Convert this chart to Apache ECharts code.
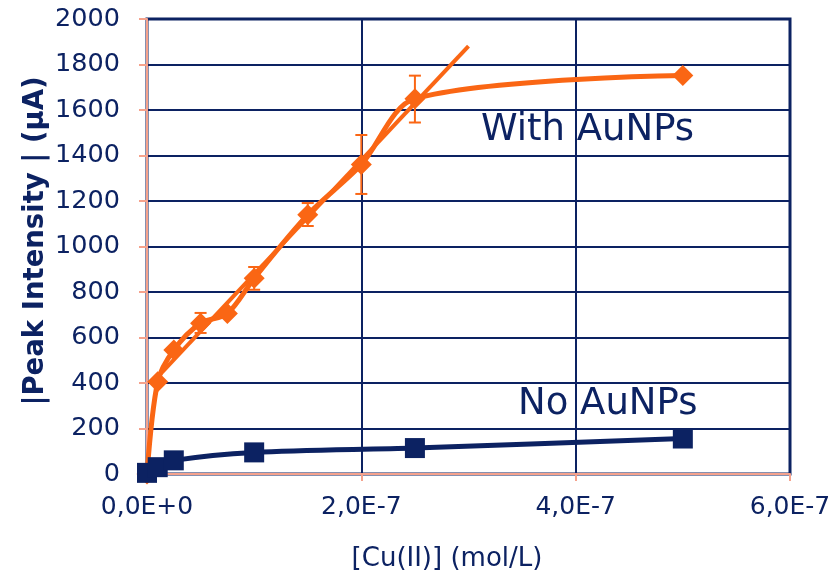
<!DOCTYPE html>
<html>
<head>
<meta charset="utf-8">
<script src="https://cdn.jsdelivr.net/npm/echarts@6/dist/echarts.min.js"></script>
<style>
html,body{margin:0;padding:0;background:#fff;}
#chart{width:840px;height:576px;}
</style>
</head>
<body>
<div id="chart"></div>
<script>
// concentrations (mol/L)
var withX = [0, 1e-8, 2.5e-8, 5e-8, 7.5e-8, 1e-7, 1.5e-7, 2e-7, 2.5e-7, 5e-7];
var withY = [0, 405, 545, 663, 705, 860, 1140, 1360, 1650, 1752];
var noX = [0, 1e-8, 2.5e-8, 1e-7, 2.5e-7, 5e-7];
var noY = [5, 30, 60, 95, 114, 156];
// error bars for "With AuNPs": x, low, high
var errX = [5e-8, 1e-7, 1.5e-7, 2e-7, 2.5e-7];
var errLow = [620, 810, 1090, 1231, 1545];
var errHigh = [708, 910, 1191, 1490, 1751];
// linear trendline end points
var trendX = [1e-8, 3e-7];
var trendY = [427, 1881];
var xTickLabels = ['0,0E+0', '2,0E-7', '4,0E-7', '6,0E-7'];
var yTitle = '|Peak Intensity | (\u00b5A)';
var xTitle = '[Cu(II)] (mol/L)';
var seriesNames = ['With AuNPs', 'No AuNPs'];

var NAVY = '#0c2262';
var ORANGE = '#fa6614';
var SALMON = '#f5a28c';
var FONT = 'DejaVu Sans';

function zip(a, b) { return a.map(function (v, i) { return [v, b[i]]; }); }

var chart = echarts.init(document.getElementById('chart'), null, {renderer: 'canvas'});
var option = {
  animation: false,
  backgroundColor: '#fff',
  grid: {left: 147, right: 50, top: 19, bottom: 102, show: true, borderColor: NAVY, borderWidth: 3, backgroundColor: 'transparent'},
  xAxis: {
    type: 'value', min: 0, max: 6e-7, interval: 2e-7,
    axisLine: {show: true, lineStyle: {color: SALMON, width: 2}},
    axisTick: {show: true, inside: false, length: 7, lineStyle: {color: SALMON, width: 2}},
    splitLine: {show: true, lineStyle: {color: NAVY, width: 2}},
    axisLabel: {
      margin: 21, fontSize: 25, color: NAVY, fontFamily: FONT,
      formatter: function (v) { return xTickLabels[Math.round(v / 2e-7)]; }
    }
  },
  yAxis: {
    type: 'value', min: 0, max: 2000, interval: 200,
    axisLine: {show: true, lineStyle: {color: SALMON, width: 2}},
    axisTick: {show: true, inside: false, length: 8, lineStyle: {color: SALMON, width: 2}},
    splitLine: {show: true, lineStyle: {color: NAVY, width: 2}},
    axisLabel: {margin: 27, fontSize: 25.5, color: NAVY, fontFamily: FONT,
      formatter: function (v) { return String(v); }}
  },
  graphic: [
    {type: 'text', x: 36, y: 241, rotation: Math.PI / 2,
     style: {text: yTitle, fill: NAVY, font: 'bold 27.5px "DejaVu Sans"', align: 'center', verticalAlign: 'middle'}},
    {type: 'text', x: 447, y: 559,
     style: {text: xTitle, fill: NAVY, font: '26px "DejaVu Sans"', align: 'center', verticalAlign: 'middle'}},
    {type: 'text', left: 481, top: 112,
     style: {text: seriesNames[0], fill: NAVY, font: '37px "DejaVu Sans"'}},
    {type: 'text', left: 518, top: 386,
     style: {text: seriesNames[1], fill: NAVY, font: '37px "DejaVu Sans"'}}
  ],
  series: [
    {
      type: 'line', name: 'trend', data: zip(trendX, trendY), symbol: 'none',
      lineStyle: {color: ORANGE, width: 4}, z: 2
    },
    {
      type: 'custom', name: 'err', z: 3,
      data: errX.map(function (x, i) { return [x, errLow[i], errHigh[i]]; }),
      renderItem: function (params, api) {
        var lo = api.coord([api.value(0), api.value(1)]);
        var hi = api.coord([api.value(0), api.value(2)]);
        var w = 6;
        var st = {stroke: ORANGE, lineWidth: 2};
        return {type: 'group', children: [
          {type: 'line', shape: {x1: lo[0], y1: lo[1], x2: hi[0], y2: hi[1]}, style: st},
          {type: 'line', shape: {x1: lo[0] - w, y1: lo[1], x2: lo[0] + w, y2: lo[1]}, style: st},
          {type: 'line', shape: {x1: hi[0] - w, y1: hi[1], x2: hi[0] + w, y2: hi[1]}, style: st}
        ]};
      }
    },
    {
      type: 'line', name: seriesNames[0], data: zip(withX, withY), smooth: 0.3,
      symbol: 'diamond', symbolSize: [21, 21],
      itemStyle: {color: ORANGE}, lineStyle: {color: ORANGE, width: 5}, z: 4
    },
    {
      type: 'line', name: seriesNames[1], data: zip(noX, noY), smooth: 0.3,
      symbol: 'rect', symbolSize: 20,
      itemStyle: {color: NAVY}, lineStyle: {color: NAVY, width: 5}, z: 5
    }
  ]
};
chart.setOption(option);
</script>
</body>
</html>
